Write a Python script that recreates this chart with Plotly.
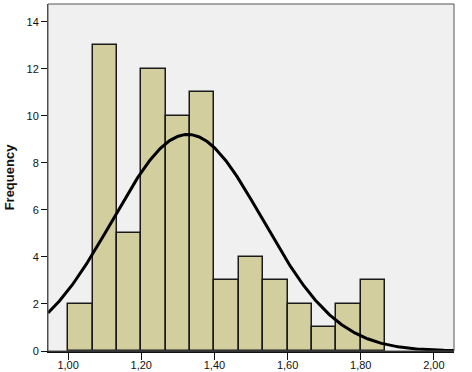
import numpy as np
import plotly.graph_objects as go

# Data
bin_start = 1.0
bin_width = 1.0 / 15.0
counts = [2, 13, 5, 12, 10, 11, 3, 4, 3, 2, 1, 2, 3]
x_tick_vals = [1.0, 1.2, 1.4, 1.6, 1.8, 2.0]
y_tick_vals = [0, 2, 4, 6, 8, 10, 12, 14]
fit_mean = 1.327
fit_sd = 0.205

n_total = sum(counts)
centers = [bin_start + bin_width * (i + 0.5) for i in range(len(counts))]

x_range = [0.945, 2.055]
xc = np.linspace(x_range[0], x_range[1], 400)
yc = n_total * bin_width / (fit_sd * np.sqrt(2 * np.pi)) * np.exp(-0.5 * ((xc - fit_mean) / fit_sd) ** 2)

fig = go.Figure()
fig.add_trace(go.Bar(
    x=centers, y=counts, width=bin_width,
    marker=dict(color="#D3CE9E", line=dict(color="#1a1a1a", width=1.5)),
    showlegend=False, hoverinfo="x+y",
))
fig.add_trace(go.Scatter(
    x=xc, y=yc, mode="lines",
    line=dict(color="black", width=3),
    showlegend=False, hoverinfo="skip",
))

fig.update_layout(
    width=472, height=372,
    margin=dict(l=48, r=18, t=4, b=21),
    paper_bgcolor="white",
    plot_bgcolor="#F0F0F0",
    separators=", ",
    font=dict(family="Arial, Liberation Sans, sans-serif", size=11, color="#111"),
    bargap=0,
)
fig.update_xaxes(
    range=x_range, tickvals=x_tick_vals, tickformat=".2f",
    showgrid=False, zeroline=False, automargin=False,
    ticks="outside", ticklen=7, tickwidth=1, tickcolor="#111",
    ticklabelstandoff=-4,
    showline=True, linecolor="#111", linewidth=2, mirror=False,
    tickfont=dict(size=11),
)
fig.update_yaxes(
    range=[0, 14.76], tickvals=y_tick_vals,
    showgrid=False, zeroline=False, automargin=False,
    ticks="outside", ticklen=6, tickwidth=1, tickcolor="#111",
    showline=True, linecolor="#444", linewidth=1, mirror=False,
    tickfont=dict(size=11),
    title=dict(text="<b>Frequency</b>", font=dict(size=13), standoff=8),
)
# plot-area border (top and right)
fig.add_shape(type="rect", xref="paper", yref="paper", x0=0, y0=0, x1=1, y1=1,
              line=dict(color="#555", width=1), fillcolor="rgba(0,0,0,0)", layer="above")

fig.write_html(
    "out.html",
    config={"displayModeBar": False},
    post_script="document.body.style.margin='0';document.body.style.overflow='hidden';",
)
